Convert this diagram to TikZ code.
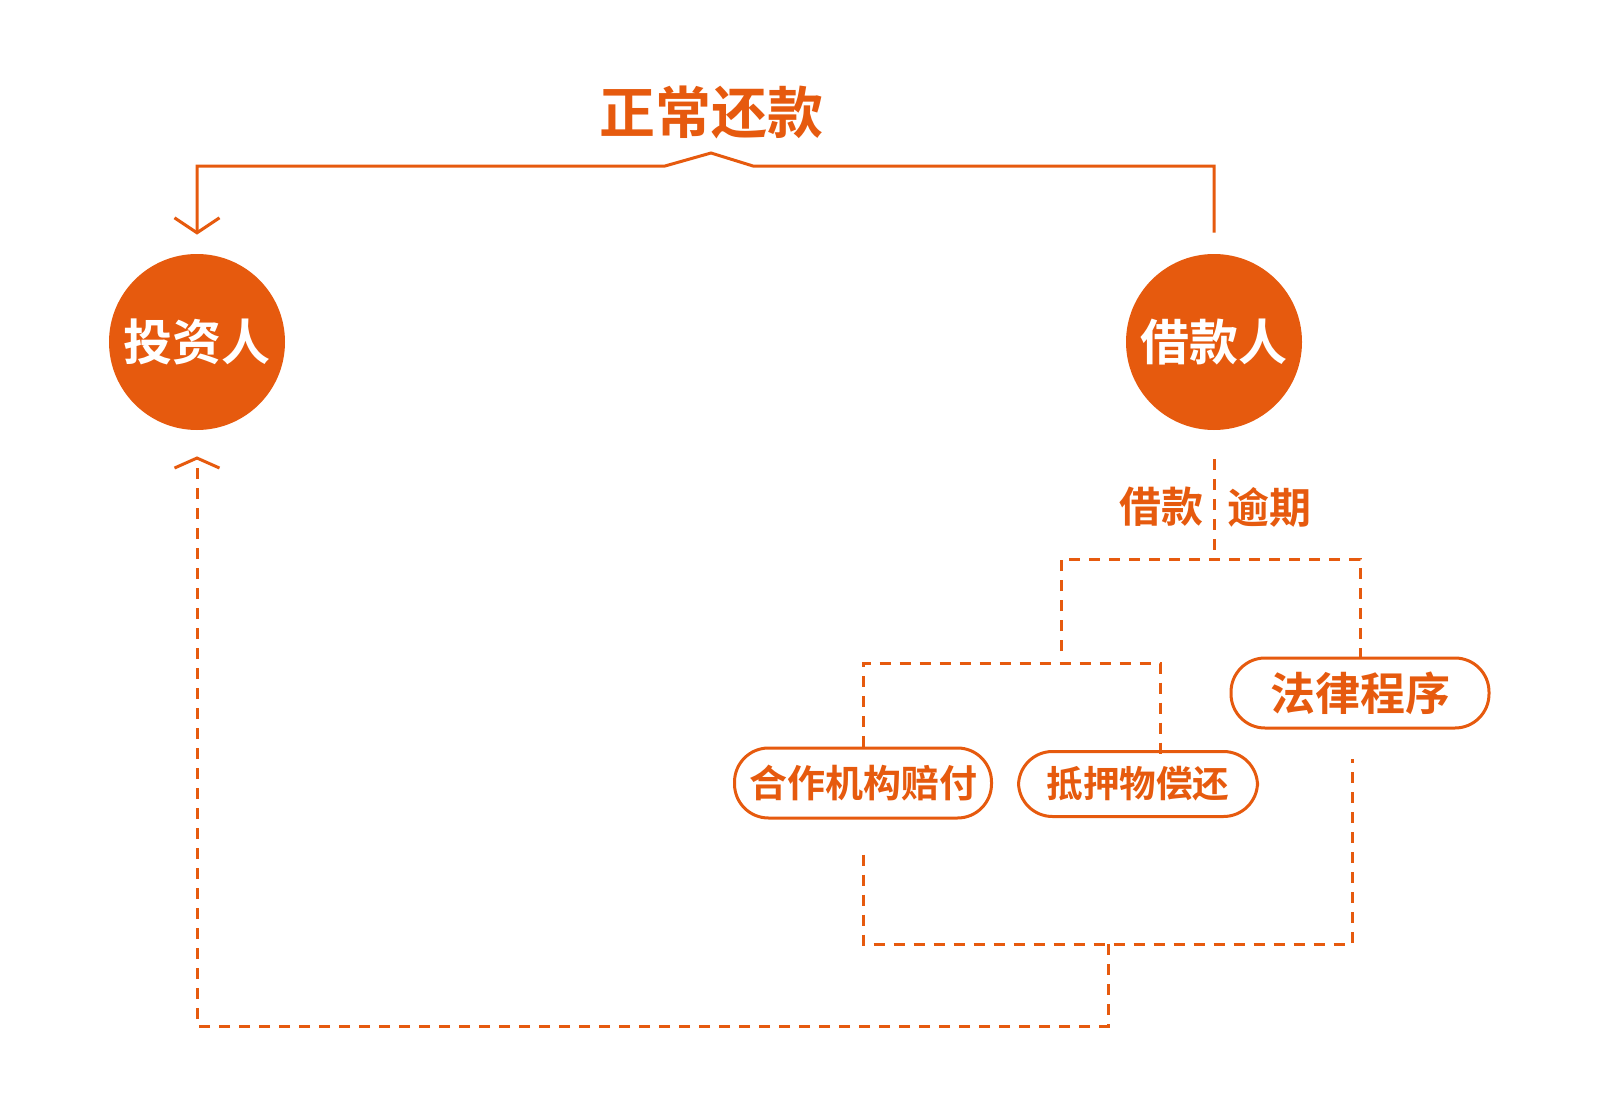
\documentclass[tikz,border=0pt]{standalone}
\usepackage{fontspec}
\usetikzlibrary{positioning,calc,arrows.meta}
\newfontfamily\cjk{Noto Sans CJK SC}[BoldFont={Noto Sans CJK SC Bold}]
\definecolor{LoanOrange}{HTML}{E65A0E}

\begin{document}
\begin{tikzpicture}[x=0.5pt,y=-0.5pt,
  person/.style={circle,fill=LoanOrange,text=white,minimum size=88pt,inner sep=0pt,
    font=\cjk\bfseries\fontsize{24.5}{26}\selectfont},
  pill/.style={draw=LoanOrange,line width=1.5pt,rounded corners=17pt,text=LoanOrange,
    minimum height=35pt,inner sep=0pt,font=\cjk\bfseries\fontsize{19}{21}\selectfont},
  tag/.style={text=LoanOrange,inner sep=0pt,font=\cjk\bfseries\fontsize{21}{23}\selectfont},
  repay/.style={LoanOrange,line width=1.5pt},
  lapse/.style={LoanOrange,line width=1.5pt,dash pattern=on 5.5pt off 4.5pt}]
  \useasboundingbox (0,0) rectangle (1600,1113);

  % the two parties
  \node[person] (inv) at (197,342) {投资人};
  \node[person] (bor) at (1214,342) {借款人};

  % normal repayment
  \node[tag,font=\cjk\bfseries\fontsize{28}{30}\selectfont] (normal) at (711,112) {正常还款};
  \coordinate (top) at (711,166);
  \draw[repay,-{Straight Barb[length=7.5pt,width=22.5pt]}]
    ($(bor.north)+(0,-21)$) -- (bor.north |- top) -- ($(top)+(42,0)$) -- ($(top)+(0,-13)$)
    -- ($(top)+(-46,0)$) -- (inv.north |- top) -- ($(inv.north)+(0,-19)$);

  % overdue
  \node[tag,anchor=east] (late1) at (1204,507) {借款};
  \node[tag,anchor=west] (late2) at (1227,507) {逾期};
  \node[pill,minimum width=129pt,font=\cjk\bfseries\fontsize{22.5}{24}\selectfont] (law) at (1360,693) {法律程序};
  \node[pill,minimum width=128.5pt] (coop) at (863,783) {合作机构赔付};
  \node[pill,minimum width=119.5pt,minimum height=32.5pt,font=\cjk\bfseries\fontsize{18.3}{20}\selectfont] (mort) at (1138,784) {抵押物偿还};

  \coordinate (split) at (1214,559);
  \coordinate (fork) at (1061,663);
  \draw[lapse] ($(bor.south)+(0,29)$) -- (split);
  \draw[lapse] ($(fork)+(0,-12)$) |- (split) -| (law.north);
  \draw[lapse] (coop.north) |- (fork) -| ($(mort.north)+(22,4)$);

  % back to the investor
  \coordinate (merge) at (1108,944);
  \coordinate (back) at (1108,1026);
  \draw[lapse] ($(coop.south)+(0,35)$) |- (merge) -| ($(law.south)+(-8,29)$);
  \draw[lapse,-{Straight Barb[length=5pt,width=22.5pt]}] (merge) -- (back) -| ($(inv.south)+(0,26)$);
\end{tikzpicture}
\end{document}
